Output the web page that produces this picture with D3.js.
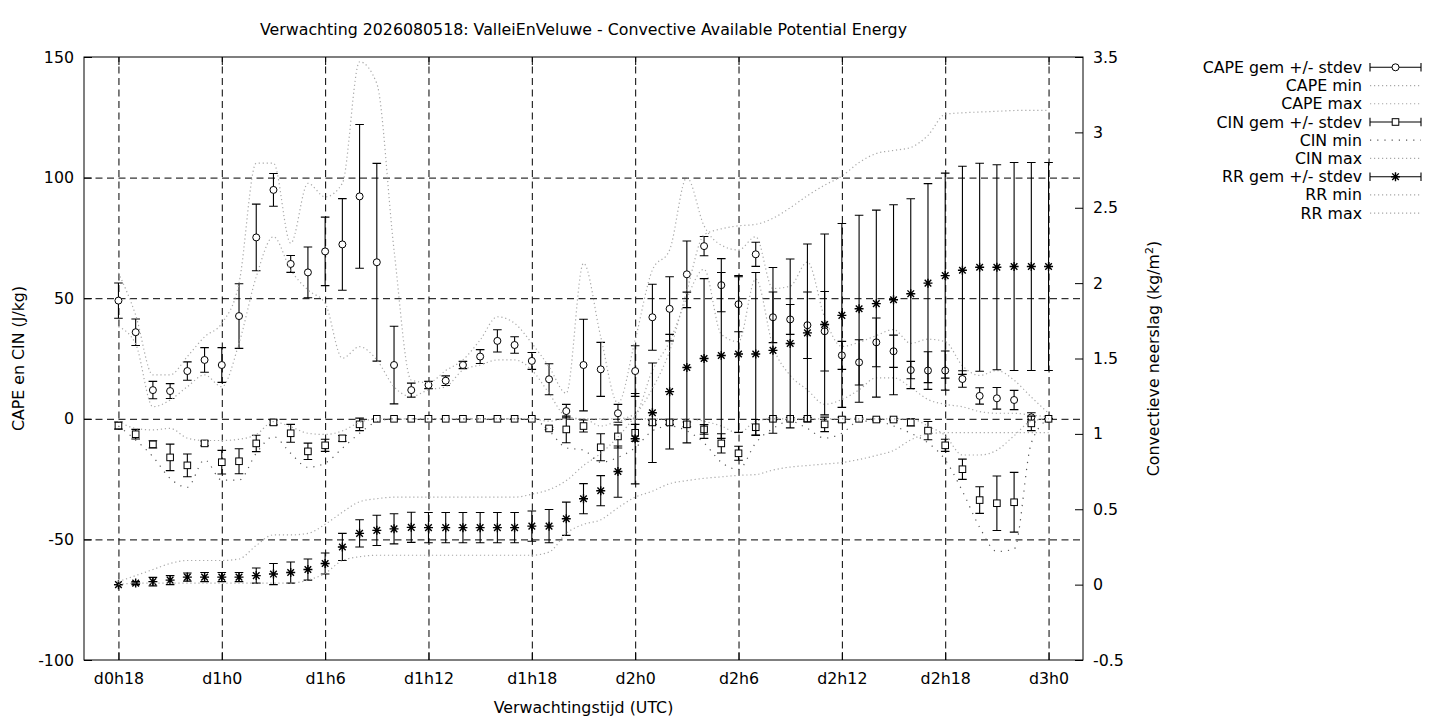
<!DOCTYPE html>
<html>
<head>
<meta charset="utf-8">
<script src="https://cdn.jsdelivr.net/npm/d3@7"></script>
<style>
body{margin:0;background:#fff;}
text{font-family:"DejaVu Sans",sans-serif;font-size:15.8px;fill:#000;}
</style>
</head>
<body>
<svg id="chart" width="1440" height="720"></svg>
<script>
// forecast hours (hours since d0h0)
var hours = [18,19,20,21,22,23,24,25,26,27,28,29,30,31,32,33,34,35,36,37,38,39,40,41,42,43,44,45,
	46,47,48,49,50,51,52,53,54,55,56,57,58,59,60,61,62,63,64,65,66,67,68,69,70,71,72];

var tickHours = [18,24,30,36,42,48,54,60,66,72];
var tickLabels = ["d0h18","d1h0","d1h6","d1h12","d1h18","d2h0","d2h6","d2h12","d2h18","d3h0"];
var leftTicks = [-100,-50,0,50,100,150];
var rightTicks = [-0.5,0,0.5,1,1.5,2,2.5,3,3.5];

// CAPE (J/kg)
var capeMean = [49,35.9,11.9,11.5,19.8,24.4,22.3,42.6,75.2,94.9,64.2,60.7,69.4,72.3,92.2,64.9,22.3,11.9,
	14,15.8,22.3,25.8,32.3,30.6,24,16.4,3.2,22.3,20.5,2.3,19.8,42.1,45.6,59.9,71.6,55.4,47.5,68.2,
	42.1,41.2,38.8,36.3,26.3,23.4,31.7,28,20.2,20,20,16.5,9.5,8.5,7.8,0.6,0];
var capeSd = [7.3,5.5,3.6,3.1,3.8,5.1,7.2,13.4,13.8,6.8,3.5,10.5,14.2,19,29.8,41,16.1,2.9,
	1.5,2,1.5,2.9,4.6,3.4,3.5,6.4,2.8,19,11.2,3.7,10.5,13.7,13.3,13.8,4,11,11.4,5,
	10.5,6.2,13.8,16.5,5.8,9.4,10.1,6.7,3.6,7.8,8.1,3.4,3.4,4.5,4,1.9,0];
var capeMin = [38.2,31,5,7.8,13.3,18.2,13.3,31.3,58.9,75.5,61.7,53.4,47.9,25.1,29.9,24.4,13.3,9.2,
	12,13.3,20.2,22.3,24.4,24.4,20.2,10.6,1,0,0,0,2,20,32,50,62,35,32,58,
	30,18,12,6,8,12,17,17,13,8,6,5,3,2.3,2.3,1.5,0.9];
var capeMax = [60.5,43,18.2,18.2,25.8,34,39.6,56.2,106,106,72.8,97.6,92,97.6,148,139,70,16,
	15,20,24.4,32.7,42.3,39.6,31.3,21.6,10.6,64.5,34,6.5,32.7,61.7,70,100,80,72,70,75.5,
	54,55,65,42,30,31.7,34.5,37,31.3,33,32,22,18,20,16,9,2.3];

// CIN (J/kg)
var cinMean = [-2.8,-6.4,-10.6,-16,-19.3,-10.2,-18,-17.6,-10.2,-1.5,-6,-13.5,-11,-8.1,-2.3,0,0,0,
	0,0,0,0,0,0,0,-4,-4.4,-3,-11.8,-7.3,-5.8,-1.5,-1.5,-2.3,-4.4,-10.2,-14.3,-3.5,
	0,0,0,-2.3,-0.3,0,-0.3,-0.3,-1.5,-4.9,-11,-20.9,-33.7,-35,-34.6,-1.9,0];
var cinSd = [1.5,2,1.5,5.5,4.7,1,4.9,5.2,3.4,1,3.7,3.4,2.5,1.2,2.6,0,0,0,
	0,0,0,0,0,0,0,0.5,5.5,2.5,5.6,4.8,3.5,0.8,0.8,1,2,4,2.9,3.2,
	0.5,0.5,0.5,3,1,0.3,0.5,0.5,1.5,3.8,2.5,4.2,5.5,11.3,12.4,3,0];
var cinMin = [-3,-8.8,-15.7,-24.7,-28.4,-17,-25.4,-25.4,-14.3,-7.4,-14.3,-20.1,-18.4,-12.2,-6,-1.2,0,0,
	0,0,0,0,0,0,0,-5,-12,-13,-18,-16,-12,-5,-3,-5,-10,-18,-21,-10,
	-4,-1,-4,-8,-6,-1,-1,-3,-6,-10,-17,-30,-45,-55,-54,-10,0];
var cinMax = [-1,-4,-4.6,-4,-8,-9,-9,-8.5,-6.5,-1.2,-3.3,-6,-6.5,-5,-1.5,0,0,0,
	0,0,0,0,0,0,0,-1,0,0,-3,-1,0,0,0,0,-1,-3,-6,-1,
	0,0,0,0,0,0,0,0,0,-3,-7,-15,-15,-13,-7,-1,0];

// RR convective precipitation (kg/m2)
var rrMean = [0,0.01,0.02,0.03,0.05,0.05,0.05,0.05,0.06,0.07,0.08,0.1,0.14,0.25,0.34,0.36,0.37,0.38,
	0.378,0.378,0.378,0.378,0.378,0.378,0.388,0.388,0.437,0.57,0.623,0.75,0.968,1.14,1.28,1.44,1.5,1.52,1.53,1.53,
	1.554,1.6,1.67,1.726,1.786,1.83,1.864,1.89,1.93,2,2.05,2.085,2.105,2.105,2.11,2.11,2.11];
var rrSd = [0,0.01,0.028,0.03,0.027,0.03,0.03,0.03,0.05,0.07,0.07,0.07,0.07,0.09,0.09,0.1,0.1,0.1,
	0.1,0.1,0.1,0.1,0.1,0.1,0.1,0.11,0.11,0.1,0.1,0.17,0.3,0.33,0.38,0.5,0.53,0.55,0.52,0.54,
	0.55,0.56,0.59,0.6,0.61,0.62,0.62,0.63,0.63,0.66,0.68,0.69,0.69,0.68,0.69,0.69,0.69];
var rrMin = [0,0.01,0.01,0.01,0.01,0.01,0.01,0.01,0.01,0.01,0.01,0.03,0.075,0.16,0.185,0.195,0.195,0.195,
	0.195,0.195,0.195,0.195,0.195,0.195,0.195,0.216,0.34,0.4,0.43,0.51,0.58,0.62,0.67,0.69,0.705,0.715,0.725,0.73,
	0.76,0.78,0.79,0.8,0.81,0.83,0.857,0.89,0.96,1,1.008,1.008,1.008,1.008,1.008,1.008,1.008];
var rrMax = [0.02,0.06,0.1,0.14,0.16,0.16,0.16,0.17,0.26,0.33,0.33,0.34,0.4,0.48,0.55,0.57,0.58,0.58,
	0.58,0.58,0.58,0.58,0.58,0.58,0.6,0.63,0.69,0.79,0.87,0.98,1.12,1.3,1.55,1.95,2.32,2.36,2.38,2.39,
	2.43,2.5,2.58,2.65,2.71,2.8,2.86,2.88,2.9,2.98,3.12,3.13,3.135,3.14,3.145,3.146,3.146];

var legendItems = [
	{label:"CAPE gem +/- stdev", kind:"bar", marker:"circle"},
	{label:"CAPE min", kind:"light"},
	{label:"CAPE max", kind:"light"},
	{label:"CIN gem +/- stdev", kind:"bar", marker:"square"},
	{label:"CIN min", kind:"dark"},
	{label:"CIN max", kind:"light"},
	{label:"RR gem +/- stdev", kind:"bar", marker:"star"},
	{label:"RR min", kind:"light"},
	{label:"RR max", kind:"light"}
];

var LEFT=84, RIGHT=1083, TOP=57, BOTTOM=660, CAP=4.3, TICK=8, FS=15.8;

var svg = d3.select("#chart");

var x = d3.scaleLinear().domain([16,74]).range([LEFT,RIGHT]);
var yL = d3.scaleLinear().domain([-100,150]).range([BOTTOM,TOP]);
var yR = d3.scaleLinear().domain([-0.5,3.5]).range([BOTTOM,TOP]);

// grid
svg.append("g")
	.attr("transform","translate(0,"+BOTTOM+")")
	.call(d3.axisBottom(x).tickValues(tickHours).tickSize(-(BOTTOM-TOP)).tickFormat(""))
	.call(function(g){g.select(".domain").remove();})
	.selectAll("line").attr("stroke","#000").attr("stroke-dasharray","7,4.5");
svg.append("g")
	.attr("transform","translate("+LEFT+",0)")
	.call(d3.axisLeft(yL).tickValues([-50,0,50,100]).tickSize(-(RIGHT-LEFT)).tickFormat(""))
	.call(function(g){g.select(".domain").remove();})
	.selectAll("line").attr("stroke","#000").attr("stroke-dasharray","7,4.5");

// axes with inward ticks
var styleAxis = function(g){
	g.select(".domain").remove();
	g.selectAll("line").attr("stroke","#000");
	g.selectAll("text").attr("font-family","DejaVu Sans").attr("font-size",FS).attr("fill","#000");
};
svg.append("g")
	.attr("transform","translate(0,"+BOTTOM+")")
	.call(d3.axisBottom(x).tickValues(tickHours).tickFormat(function(d,i){return tickLabels[i];})
		.tickSize(-TICK).tickPadding(13))
	.call(styleAxis);
svg.append("g")
	.attr("transform","translate(0,"+TOP+")")
	.call(d3.axisTop(x).tickValues(tickHours).tickFormat("").tickSize(-TICK))
	.call(styleAxis);
svg.append("g")
	.attr("transform","translate("+LEFT+",0)")
	.call(d3.axisLeft(yL).tickValues(leftTicks).tickFormat(function(d){return String(d);})
		.tickSize(-TICK).tickPadding(10))
	.call(styleAxis);
svg.append("g")
	.attr("transform","translate("+RIGHT+",0)")
	.call(d3.axisRight(yR).tickValues(rightTicks).tickFormat(function(d){return String(d);})
		.tickSize(-TICK).tickPadding(10))
	.call(styleAxis);

// border
svg.append("rect")
	.attr("x",LEFT).attr("y",TOP)
	.attr("width",RIGHT-LEFT).attr("height",BOTTOM-TOP)
	.attr("fill","none").attr("stroke","#000").attr("stroke-width",1);

var plot = svg.append("g");

var drawMarker = function(g,type,cx,cy){
	if(type=="circle"){
		g.append("circle").attr("cx",cx).attr("cy",cy).attr("r",3.5)
			.attr("fill","#fff").attr("stroke","#000").attr("stroke-width",1);
	}else if(type=="square"){
		g.append("rect").attr("x",cx-3.3).attr("y",cy-3.3).attr("width",6.6).attr("height",6.6)
			.attr("fill","#fff").attr("stroke","#000").attr("stroke-width",1);
	}else{
		g.append("path")
			.attr("d","M"+(cx-4.5)+","+cy+"H"+(cx+4.5)+"M"+cx+","+(cy-4.5)+"V"+(cy+4.5)
				+"M"+(cx-3.3)+","+(cy-3.3)+"L"+(cx+3.3)+","+(cy+3.3)+"M"+(cx-3.3)+","+(cy+3.3)+"L"+(cx+3.3)+","+(cy-3.3))
			.attr("stroke","#000").attr("stroke-width",1.4).attr("fill","none");
	}
};

var errorBars = function(mean,sd,y,marker){
	var g = plot.append("g").attr("class","errbars");
	hours.forEach(function(h,i){
		var cx = x(h), top = y(mean[i]+sd[i]), bot = y(mean[i]-sd[i]);
		g.append("path")
			.attr("d","M"+cx+","+top+"V"+bot+"M"+(cx-CAP)+","+top+"H"+(cx+CAP)+"M"+(cx-CAP)+","+bot+"H"+(cx+CAP))
			.attr("stroke","#000").attr("stroke-width",1.1).attr("fill","none");
		drawMarker(g,marker,cx,y(mean[i]));
	});
};

var dotted = function(vals,y,kind){
	var line = d3.line()
		.x(function(d,i){return x(hours[i]);})
		.y(function(d){return y(d);})
		.curve(d3.curveMonotoneX);
	plot.append("path")
		.datum(vals)
		.attr("d",line)
		.attr("fill","none")
		.attr("stroke",kind=="dark"?"#555":"#a8a8a8")
		.attr("stroke-width",1.2)
		.attr("stroke-dasharray",kind=="dark"?"1.2,6":"1.2,2.8");
};

// same order as the legend
errorBars(capeMean,capeSd,yL,"circle");
dotted(capeMin,yL,"light");
dotted(capeMax,yL,"light");
errorBars(cinMean,cinSd,yL,"square");
dotted(cinMin,yL,"dark");
dotted(cinMax,yL,"light");
errorBars(rrMean,rrSd,yR,"star");
dotted(rrMin,yR,"light");
dotted(rrMax,yR,"light");

// legend
var legend = svg.append("g");
legendItems.forEach(function(item,i){
	var cy = 67.3 + i*18.23;
	legend.append("text")
		.attr("x",1362).attr("y",cy).attr("dy","0.35em")
		.attr("text-anchor","end")
		.text(item.label);
	if(item.kind=="bar"){
		legend.append("path")
			.attr("d","M1370,"+cy+"H1421M1370,"+(cy-CAP)+"V"+(cy+CAP)+"M1421,"+(cy-CAP)+"V"+(cy+CAP))
			.attr("stroke","#000").attr("stroke-width",1.1).attr("fill","none");
		drawMarker(legend,item.marker,1395.5,cy);
	}else{
		legend.append("line")
			.attr("x1",1370).attr("x2",1421).attr("y1",cy).attr("y2",cy)
			.attr("stroke",item.kind=="dark"?"#555":"#a8a8a8")
			.attr("stroke-width",1.2)
			.attr("stroke-dasharray",item.kind=="dark"?"1.2,6":"1.2,2.8");
	}
});

// titles
svg.append("text")
	.attr("x",(LEFT+RIGHT)/2).attr("y",35)
	.attr("text-anchor","middle")
	.text("Verwachting 2026080518: ValleiEnVeluwe - Convective Available Potential Energy");
svg.append("text")
	.attr("x",(LEFT+RIGHT)/2).attr("y",713)
	.attr("text-anchor","middle")
	.text("Verwachtingstijd (UTC)");
svg.append("text")
	.attr("transform","translate(24,"+((TOP+BOTTOM)/2)+") rotate(-90)")
	.attr("text-anchor","middle")
	.text("CAPE en CIN (J/kg)");
var y2lab = svg.append("text")
	.attr("transform","translate(1159,"+((TOP+BOTTOM)/2)+") rotate(-90)")
	.attr("text-anchor","middle");
y2lab.append("tspan").text("Convectieve neerslag (kg/m");
y2lab.append("tspan").attr("font-size",11).attr("dy",-6).text("2");
y2lab.append("tspan").attr("dy",6).text(")");
</script>
</body>
</html>
